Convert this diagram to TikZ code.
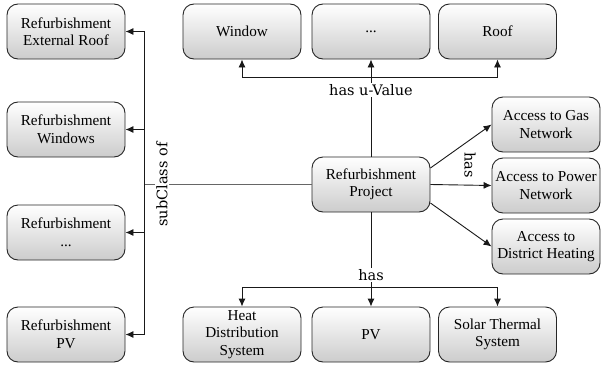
\documentclass[tikz,border=0pt]{standalone}
\usepackage{fontspec}
\setmainfont{Liberation Serif}
\newfontfamily\lblfont{DejaVu Serif}
\usetikzlibrary{arrows.meta}
\begin{document}
\begin{tikzpicture}[x=1pt,y=-1pt,
  box/.style={draw=black!85, line width=0.9pt, rounded corners=11pt,
    top color=white, bottom color=black!20, minimum height=55pt,
    minimum width=118pt, inner sep=0pt, align=center,
    font=\fontsize{15.2}{17.5}\selectfont},
  rbox/.style={box, minimum width=108pt},
  conn/.style={line width=0.9pt, draw=black!90},
  arr/.style={conn, -{Latex[length=8pt,width=7pt]}},
  lbl/.style={fill=white, inner sep=1pt, font=\lblfont\fontsize{14.5}{16}\selectfont}
]
\useasboundingbox (0,0) rectangle (602,364);
% left column
\node[box] (l1) at (66,31.5) {Refurbishment\\External Roof};
\node[box] (l2) at (66,129.5) {Refurbishment\\Windows};
\node[box] (l3) at (66,232.5) {Refurbishment\\...};
\node[box] (l4) at (66,334.5) {Refurbishment\\PV};
% top row
\node[box] (win) at (242,31.5) {Window};
\node[box] (dots) at (371,31.5) {...};
\node[box] (roof) at (497.5,31.5) {Roof};
% centre
\node[box] (proj) at (371,184.5) {Refurbishment\\Project};
% bottom row
\node[box] (heat) at (242,334.5) {Heat\\Distribution\\System};
\node[box] (pv) at (371,334.5) {PV};
\node[box] (solar) at (497.5,334.5) {Solar Thermal\\System};
% right column
\node[rbox] (gas) at (546,124.5) {Access to Gas\\Network};
\node[rbox] (power) at (546,185.5) {Access to Power\\Network};
\node[rbox] (dist) at (546,246.5) {Access to\\District Heating};
% coordinates
\coordinate (hu) at (371,77);
\coordinate (hb) at (371,287);
\coordinate (sc) at (144,184.5);
% has u-Value
\draw[conn] (proj.north) -- (hu);
\draw[arr] (hu) -| (win.south);
\draw[arr] (hu) -| (roof.south);
\draw[arr] (hu) -- (dots.south);
\node[lbl] (lu) at (371,90) {has u-Value};
% has (bottom)
\draw[conn] (proj.south) -- (hb);
\draw[arr] (hb) -| (heat.north);
\draw[arr] (hb) -| (solar.north);
\draw[arr] (hb) -- (pv.north);
\node[lbl] (lb) at (371,275) {has};
% subClass of
\draw[conn, draw=black!60] (proj.west) -- (sc);
\draw[arr] (sc) |- (l1.east);
\draw[arr] (sc) |- (l2.east);
\draw[arr] (sc) |- (l3.east);
\draw[arr] (sc) |- (l4.east);
\node[lbl, rotate=90] (ls) at (162,184.5) {subClass of};
% has (right)
\draw[arr] ([yshift=16.5pt]proj.east) -- (gas.west);
\draw[arr] (proj.east) -- (power.west);
\draw[arr] ([yshift=-18.5pt]proj.east) -- (dist.west);
\node[lbl, rotate=-90, fill=none] (lr) at (470,165) {has};
\end{tikzpicture}
\end{document}
